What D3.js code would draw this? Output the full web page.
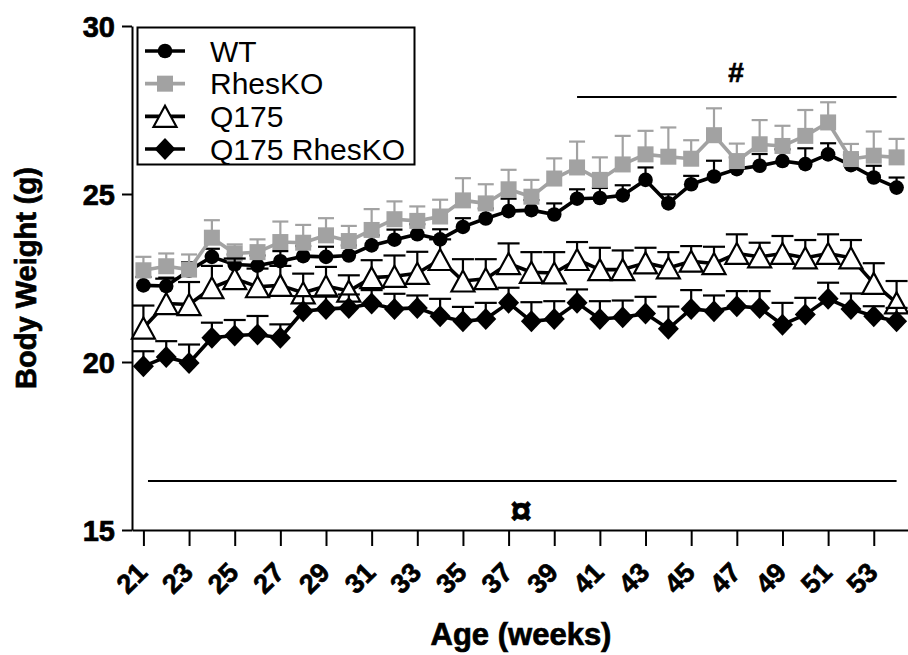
<!DOCTYPE html>
<html>
<head>
<meta charset="utf-8">
<script src="https://cdn.jsdelivr.net/npm/d3@7"></script>
<style>
    body { margin: 0; background: #fff; }
    svg { display: block; font-family: Arial, 'Liberation Sans', sans-serif; }
</style>
</head>
<body>
<div id="chart"></div>
<script>
// ages in weeks
const weeks = [21, 22, 23, 24, 25, 26, 27, 28, 29, 30, 31, 32, 33, 34, 35, 36, 37,
    38, 39, 40, 41, 42, 43, 44, 45, 46, 47, 48, 49, 50, 51, 52, 53, 54];
const weekTicks = [21, 23, 25, 27, 29, 31, 33, 35, 37, 39, 41, 43, 45, 47, 49, 51, 53];
const weightTicks = [15, 20, 25, 30];

const seriesNames = ['WT', 'RhesKO', 'Q175', 'Q175 RhesKO'];

const wtMean = [22.28, 22.26, 22.72, 23.13, 22.9, 22.87, 23.0, 23.15, 23.13, 23.17, 23.47,
    23.64, 23.8, 23.65, 24.02, 24.27, 24.49, 24.52, 24.39, 24.86, 24.88, 24.96, 25.42,
    24.72, 25.29, 25.52, 25.74, 25.84, 25.98, 25.89, 26.18, 25.86, 25.49, 25.19];
const wtSem = [0.25, 0.25, 0.25, 0.24, 0.3, 0.3, 0.3, 0.3, 0.3, 0.3, 0.3, 0.3, 0.3, 0.3,
    0.26, 0.3, 0.37, 0.3, 0.33, 0.28, 0.3, 0.3, 0.37, 0.27, 0.25, 0.47, 0.35, 0.35, 0.35,
    0.47, 0.33, 0.3, 0.35, 0.3];

const rhesMean = [22.73, 22.85, 22.75, 23.7, 23.23, 23.27, 23.57, 23.55, 23.77, 23.6, 23.93,
    24.25, 24.2, 24.33, 24.81, 24.72, 25.14, 24.92, 25.46, 25.79, 25.42, 25.88, 26.18,
    26.11, 26.05, 26.75, 25.98, 26.48, 26.43, 26.73, 27.13, 26.04, 26.14, 26.09];
const rhesSem = [0.4, 0.38, 0.45, 0.52, 0.27, 0.38, 0.61, 0.53, 0.51, 0.45, 0.62, 0.53,
    0.43, 0.5, 0.66, 0.57, 0.58, 0.5, 0.6, 0.77, 0.67, 0.85, 0.7, 0.87, 0.55, 0.8, 0.52,
    0.72, 0.6, 0.77, 0.6, 0.45, 0.72, 0.55];

const q175Mean = [21.01, 21.74, 21.71, 22.21, 22.48, 22.24, 22.28, 22.06, 22.26, 22.11, 22.51,
    22.55, 22.64, 23.05, 22.41, 22.48, 22.93, 22.67, 22.65, 23.05, 22.75, 22.75, 22.95,
    22.8, 23.0, 22.93, 23.23, 23.13, 23.23, 23.1, 23.23, 23.1, 22.34, 21.76];
const q175Sem = [0.67, 0.74, 0.67, 0.65, 0.6, 0.54, 0.58, 0.57, 0.57, 0.47, 0.52, 0.62,
    0.64, 0.6, 0.65, 0.58, 0.6, 0.6, 0.62, 0.52, 0.65, 0.57, 0.45, 0.47, 0.45, 0.5, 0.57,
    0.42, 0.52, 0.53, 0.57, 0.53, 0.6, 0.65];

const q175RhesMean = [19.87, 20.15, 19.97, 20.72, 20.79, 20.82, 20.72, 21.51, 21.58, 21.61,
    21.74, 21.58, 21.61, 21.36, 21.21, 21.28, 21.76, 21.21, 21.28, 21.76, 21.28, 21.33,
    21.44, 20.99, 21.58, 21.51, 21.66, 21.61, 21.11, 21.41, 21.88, 21.58, 21.36, 21.21];
const q175RhesSem = [0.45, 0.47, 0.55, 0.45, 0.46, 0.55, 0.4, 0.45, 0.4, 0.4, 0.4, 0.45,
    0.37, 0.52, 0.43, 0.48, 0.45, 0.57, 0.53, 0.4, 0.53, 0.5, 0.5, 0.66, 0.56, 0.47, 0.45,
    0.5, 0.65, 0.5, 0.48, 0.46, 0.3, 0.4];

// significance bars: [from week, to week, symbol]
const sigHash = [40, 54, '#'];
const sigAll = [21.2, 54, '\u00a4'];

const width = 908;
const height = 655;
const grey = '#a2a2a2';
const heavy = 0.7; // extra stroke to thicken bold labels

const x = d3.scaleLinear().domain([20.5, 54.5]).range([132, 908]);
const y = d3.scaleLinear().domain([15, 30]).range([530, 26]);

const svg = d3
    .select('#chart')
    .append('svg')
    .attr('width', width)
    .attr('height', height);

// symbols, centred on 0,0
const shapes = {
    circle: (g, color) =>
        g.append('circle').attr('r', 7.3).attr('fill', color),
    square: (g, color) =>
        g.append('rect')
            .attr('x', -8).attr('y', -8)
            .attr('width', 16).attr('height', 16)
            .attr('fill', color),
    triangle: (g) =>
        g.append('path')
            .attr('d', 'M0,-10.5L11.5,10.5L-11.5,10.5Z')
            .attr('fill', '#fff')
            .attr('stroke', '#000')
            .attr('stroke-width', 2.2)
            .attr('stroke-linejoin', 'miter'),
    diamond: (g, color) =>
        g.append('path')
            .attr('d', 'M0,-11L10.5,0L0,11L-10.5,0Z')
            .attr('fill', color),
};

const series = [
    { name: seriesNames[0], mean: wtMean, sem: wtSem, color: '#000', shape: 'circle', cap: 16 },
    { name: seriesNames[1], mean: rhesMean, sem: rhesSem, color: grey, shape: 'square', cap: 16 },
    { name: seriesNames[2], mean: q175Mean, sem: q175Sem, color: '#000', shape: 'triangle', cap: 22 },
    { name: seriesNames[3], mean: q175RhesMean, sem: q175RhesSem, color: '#000', shape: 'diamond', cap: 22 },
];

function boldText(sel, size) {
    return sel
        .attr('font-size', size)
        .attr('font-weight', 'bold')
        .attr('font-family', 'Arial, Liberation Sans, sans-serif')
        .attr('fill', '#000')
        .attr('stroke', '#000')
        .attr('stroke-width', heavy);
}

// axes
const yAxis = svg
    .append('g')
    .attr('transform', `translate(${x.range()[0]}, 0)`)
    .call(
        d3.axisLeft(y)
            .tickValues(weightTicks)
            .tickSize(10)
            .tickSizeOuter(0)
            .tickPadding(7)
    );
boldText(yAxis.selectAll('text'), '29px').attr('dy', '0.36em');

const xAxis = svg
    .append('g')
    .attr('transform', `translate(0, ${y(15)})`)
    .call(
        d3.axisBottom(x)
            .tickValues(weekTicks)
            .tickSize(16)
            .tickSizeOuter(0)
    );
boldText(xAxis.selectAll('text'), '27px')
    .attr('y', 0)
    .attr('dy', 0)
    .attr('transform', 'translate(5, 44) rotate(-45)')
    .attr('text-anchor', 'end');

svg.selectAll('.domain, .tick line')
    .attr('stroke', '#000')
    .attr('stroke-width', 2);

boldText(svg.append('text'), '31px')
    .attr('x', 521)
    .attr('y', 645)
    .attr('text-anchor', 'middle')
    .text('Age (weeks)');

boldText(svg.append('text'), '29px')
    .attr('transform', 'translate(36, 278) rotate(-90)')
    .attr('text-anchor', 'middle')
    .text('Body Weight (g)');

// significance lines
[sigHash, sigAll].forEach(([from, to, sym], i) => {
    const ly = i === 0 ? 97 : 481;
    svg.append('line')
        .attr('x1', x(from)).attr('x2', x(to))
        .attr('y1', ly).attr('y2', ly)
        .attr('stroke', '#000')
        .attr('stroke-width', 2);
    boldText(svg.append('text'), i === 0 ? '28px' : '38px')
        .attr('x', i === 0 ? 736 : 521)
        .attr('y', i === 0 ? 82 : 524)
        .attr('text-anchor', 'middle')
        .text(sym);
});

// data
const line = d3.line().x((d) => x(d.w)).y((d) => y(d.v));

series.forEach((s) => {
    const pts = weeks.map((w, i) => ({ w: w, v: s.mean[i], e: s.sem[i] }));
    const g = svg.append('g');

    const bars = g.append('g')
        .attr('stroke', s.color)
        .attr('stroke-width', 2.2);
    bars.selectAll('line.v')
        .data(pts)
        .join('line')
        .attr('class', 'v')
        .attr('x1', (d) => x(d.w)).attr('x2', (d) => x(d.w))
        .attr('y1', (d) => y(d.v)).attr('y2', (d) => y(d.v + d.e));
    bars.selectAll('line.c')
        .data(pts)
        .join('line')
        .attr('class', 'c')
        .attr('x1', (d) => x(d.w) - s.cap / 2).attr('x2', (d) => x(d.w) + s.cap / 2)
        .attr('y1', (d) => y(d.v + d.e)).attr('y2', (d) => y(d.v + d.e));

    g.append('path')
        .datum(pts)
        .attr('d', line)
        .attr('fill', 'none')
        .attr('stroke', s.color)
        .attr('stroke-width', 3.6)
        .attr('stroke-linejoin', 'round');

    g.selectAll('g.pt')
        .data(pts)
        .join('g')
        .attr('class', 'pt')
        .attr('transform', (d) => `translate(${x(d.w)}, ${y(d.v)})`)
        .each(function () {
            shapes[s.shape](d3.select(this), s.color);
        });
});

// legend
const legend = svg.append('g');
legend.append('rect')
    .attr('x', 137.5)
    .attr('y', 27.5)
    .attr('width', 277)
    .attr('height', 137)
    .attr('fill', '#fff')
    .attr('stroke', '#000')
    .attr('stroke-width', 2);

const legendY = d3.scalePoint().domain(seriesNames).range([51, 149]);

series.forEach((s) => {
    const ly = legendY(s.name);
    legend.append('line')
        .attr('x1', 145).attr('x2', 185)
        .attr('y1', ly).attr('y2', ly)
        .attr('stroke', s.color)
        .attr('stroke-width', 3.6);
    const m = legend.append('g').attr('transform', `translate(165, ${ly})`);
    shapes[s.shape](m, s.color);
    legend.append('text')
        .attr('x', 210)
        .attr('y', ly)
        .attr('dy', '0.36em')
        .attr('font-size', '30px')
        .text(s.name);
});
</script>
</body>
</html>
